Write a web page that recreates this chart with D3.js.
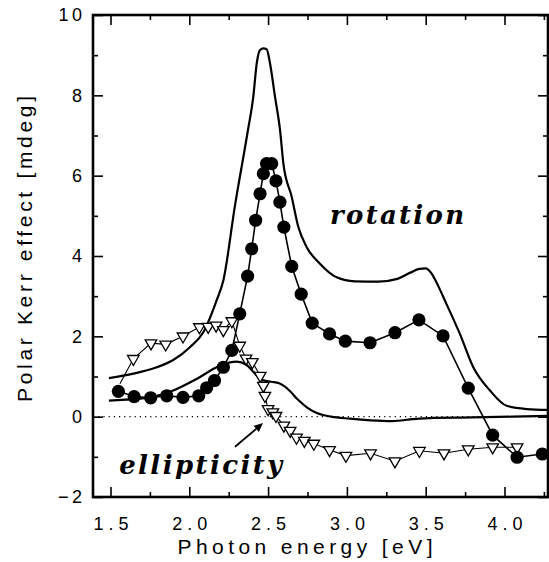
<!DOCTYPE html>
<html><head><meta charset="utf-8">
<script src="https://cdn.jsdelivr.net/npm/d3@7"></script>
<style>body{margin:0;background:#fff}svg{display:block}</style>
</head><body>
<svg id="c" width="549" height="562"></svg>
<script>
// ---- axis ticks ----
const xMajorTicks = [1.5, 2.0, 2.5, 3.0, 3.5, 4.0];
const xMinorTicks = [1.75, 2.25, 2.75, 3.25, 3.75, 4.25];
const xTickLabels = ["1.5", "2.0", "2.5", "3.0", "3.5", "4.0"];
const yMajorTicks = [-2, 0, 2, 4, 6, 8, 10];
const yMinorTicks = [-1, 1, 3, 5, 7, 9];
const yTickLabels = ["\u22122", "0", "2", "4", "6", "8", "10"];

// ---- theory: rotation (solid) ----
const rotTheoryE = [1.49, 1.645, 1.793, 1.898, 2.004, 2.089, 2.174, 2.216, 2.29, 2.372, 2.406, 2.428, 2.449, 2.47, 2.491, 2.512, 2.544, 2.576, 2.597, 2.65, 2.692, 2.745, 2.829, 2.935, 3.05, 3.2, 3.32, 3.40, 3.46, 3.50, 3.53, 3.58, 3.622, 3.717, 3.802, 3.908, 4.014, 4.141, 4.276];
const rotTheoryV = [0.96, 1.07, 1.23, 1.41, 1.73, 2.1, 2.9, 3.39, 5.26, 7.13, 7.96, 8.8, 9.13, 9.17, 9.15, 8.8, 7.96, 7.13, 6.3, 5.47, 4.72, 4.22, 3.81, 3.47, 3.37, 3.36, 3.43, 3.58, 3.68, 3.69, 3.6, 3.25, 2.89, 2.06, 1.23, 0.65, 0.27, 0.19, 0.17];

// ---- theory: ellipticity (solid) ----
const ellTheoryE = [1.49, 1.751, 1.898, 2.047, 2.174, 2.258, 2.30, 2.36, 2.41, 2.46, 2.52, 2.57, 2.63, 2.69, 2.75, 2.81, 2.9, 3.02, 3.15, 3.29, 3.42, 3.55, 3.8, 4.05, 4.276];
const ellTheoryV = [0.4, 0.48, 0.65, 0.94, 1.23, 1.35, 1.37, 1.30, 1.1, 0.92, 0.87, 0.83, 0.67, 0.42, 0.22, 0.09, 0.0, -0.05, -0.09, -0.11, -0.06, -0.03, -0.02, 0.0, 0.02];

// ---- measured rotation (filled circles) ----
const rotDataE = [1.55, 1.65, 1.755, 1.857, 1.96, 2.06, 2.11, 2.16, 2.216, 2.27, 2.32, 2.37, 2.396, 2.421, 2.449, 2.47, 2.49, 2.523, 2.55, 2.575, 2.60, 2.65, 2.71, 2.78, 2.89, 2.99, 3.147, 3.305, 3.457, 3.61, 3.77, 3.925, 4.08, 4.24];
const rotDataV = [0.63, 0.50, 0.47, 0.52, 0.48, 0.52, 0.72, 0.90, 1.23, 1.65, 2.56, 3.5, 4.18, 4.89, 5.55, 6.05, 6.3, 6.3, 5.87, 5.34, 4.72, 3.74, 3.05, 2.33, 2.06, 1.88, 1.84, 2.09, 2.41, 2.01, 0.71, -0.46, -1.01, -0.93];

// ---- measured ellipticity (open triangles) ----
const ellDataE = [1.56, 1.645, 1.757, 1.85, 1.96, 2.064, 2.12, 2.17, 2.216, 2.27, 2.32, 2.36, 2.40, 2.45, 2.47, 2.48, 2.50, 2.53, 2.55, 2.60, 2.64, 2.68, 2.73, 2.79, 2.89, 2.994, 3.15, 3.305, 3.46, 3.616, 3.77, 3.925, 4.08];
const ellDataV = [0.82, 1.44, 1.83, 1.80, 2.0, 2.23, 2.24, 2.27, 2.16, 2.38, 1.77, 1.45, 1.36, 1.02, 0.77, 0.52, 0.19, 0.11, 0.02, -0.22, -0.35, -0.52, -0.60, -0.67, -0.83, -0.97, -0.91, -1.11, -0.85, -0.91, -0.81, -0.76, -0.76];

// ---- annotations ----
const rotationLabel = {text: "rotation", e: 2.893, v: 4.8};
const ellipLabel = {text: "ellipticity", e: 1.555, v: -1.43};
const arrowFrom = {e: 2.29, v: -0.75};
const arrowTo = {e: 2.468, v: -0.16};

const zip = (E, V) => E.map((e, i) => ({e, v: V[i]}));
const rotTheory = zip(rotTheoryE, rotTheoryV);
const ellTheory = zip(ellTheoryE, ellTheoryV);
const rotData = zip(rotDataE, rotDataV);
const ellData = zip(ellDataE, ellDataV);

const L = 93, R = 548, T = 15, B = 497;
const x = d3.scaleLinear().domain([1.389, 4.276]).range([L, R]);
const y = d3.scaleLinear().domain([-2, 10]).range([B, T]);

const svg = d3.select("#c");
const sans = "'Liberation Sans', Arial, sans-serif";

// zero dotted line
svg.append("line").attr("x1", L).attr("x2", R).attr("y1", y(0)).attr("y2", y(0))
  .attr("stroke", "#000").attr("stroke-width", 1.2).attr("stroke-dasharray", "1.2,4");

// axes (ticks inward)
function ax(gen, scale, vals, size, tr, fmt) {
  const g = svg.append("g").attr("transform", tr)
    .call(gen(scale).tickValues(vals).tickSize(size).tickSizeOuter(0).tickFormat(fmt || (() => "")));
  g.select(".domain").remove();
  g.selectAll(".tick line").attr("stroke", "#000").attr("stroke-width", 1.6);
  return g;
}
const bx = ax(d3.axisBottom, x, xMajorTicks, -10, `translate(0,${B})`, (d, i) => xTickLabels[i]);
ax(d3.axisBottom, x, xMinorTicks, -5, `translate(0,${B})`);
ax(d3.axisTop, x, xMajorTicks, -10, `translate(0,${T})`);
ax(d3.axisTop, x, xMinorTicks, -5, `translate(0,${T})`);
const ly = ax(d3.axisLeft, y, yMajorTicks, -10, `translate(${L},0)`, (d, i) => yTickLabels[i]);
ax(d3.axisLeft, y, yMinorTicks, -5, `translate(${L},0)`);
ax(d3.axisRight, y, yMajorTicks, -10, `translate(${R},0)`);
ax(d3.axisRight, y, yMinorTicks, -5, `translate(${R},0)`);

bx.selectAll(".tick text").attr("font-family", sans).attr("font-size", 18)
  .attr("fill", "#000").attr("y", 20).attr("dy", "0.71em")
  .attr("letter-spacing", 5).attr("dx", 2.5);
ly.selectAll(".tick text").attr("font-family", sans).attr("font-size", 18)
  .attr("fill", "#000").attr("x", -11).attr("letter-spacing", 3.5).attr("dx", 3.5);

// frame
svg.append("rect").attr("x", L).attr("y", T).attr("width", R - L).attr("height", B - T)
  .attr("fill", "none").attr("stroke", "#000").attr("stroke-width", 2.6);

// theory curves
const line = d3.line().x(d => x(d.e)).y(d => y(d.v)).curve(d3.curveMonotoneX);
svg.append("path").datum(rotTheory).attr("d", line)
  .attr("fill", "none").attr("stroke", "#000").attr("stroke-width", 2.2);
svg.append("path").datum(ellTheory).attr("d", line)
  .attr("fill", "none").attr("stroke", "#000").attr("stroke-width", 2.2);

// data connecting lines
const lin = d3.line().x(d => x(d.e)).y(d => y(d.v));
svg.append("path").datum(ellData).attr("d", lin)
  .attr("fill", "none").attr("stroke", "#000").attr("stroke-width", 1.1);
svg.append("path").datum(rotData).attr("d", lin)
  .attr("fill", "none").attr("stroke", "#000").attr("stroke-width", 1.6);

// triangles
const tri = d3.symbol().type(d3.symbolTriangle).size(58);
svg.append("g").selectAll("path").data(ellData.slice(1)).join("path")
  .attr("d", tri)
  .attr("transform", d => `translate(${x(d.e)},${y(d.v)}) rotate(180)`)
  .attr("fill", "#fff").attr("stroke", "#000").attr("stroke-width", 1.3);

// circles
svg.append("g").selectAll("circle").data(rotData).join("circle")
  .attr("cx", d => x(d.e)).attr("cy", d => y(d.v)).attr("r", 6.6)
  .attr("fill", "#000");

// labels
const serif = "'DejaVu Serif', serif";
svg.append("text").attr("x", x(rotationLabel.e)).attr("y", y(rotationLabel.v))
  .attr("font-family", serif).attr("font-weight", "bold").attr("font-style", "italic")
  .attr("font-size", 26).attr("textLength", 134).attr("lengthAdjust", "spacing")
  .text(rotationLabel.text);
svg.append("text").attr("x", x(ellipLabel.e)).attr("y", y(ellipLabel.v))
  .attr("font-family", serif).attr("font-weight", "bold").attr("font-style", "italic")
  .attr("font-size", 26).attr("textLength", 163).attr("lengthAdjust", "spacing")
  .text(ellipLabel.text);

// arrow
const ax1 = x(arrowFrom.e), ay1 = y(arrowFrom.v), ax2 = x(arrowTo.e), ay2 = y(arrowTo.v);
const ang = Math.atan2(ay2 - ay1, ax2 - ax1);
const hl = 9, hw = 4;
const bxp = ax2 - hl * Math.cos(ang), byp = ay2 - hl * Math.sin(ang);
svg.append("line").attr("x1", ax1).attr("y1", ay1).attr("x2", bxp).attr("y2", byp)
  .attr("stroke", "#000").attr("stroke-width", 1.8);
svg.append("path").attr("d", `M${ax2},${ay2}L${bxp + hw * Math.sin(ang)},${byp - hw * Math.cos(ang)}L${bxp - hw * Math.sin(ang)},${byp + hw * Math.cos(ang)}Z`)
  .attr("fill", "#000");

// axis titles
svg.append("text").attr("x", 305).attr("y", 554).attr("text-anchor", "middle")
  .attr("font-family", sans).attr("font-size", 21)
  .attr("textLength", 255).attr("lengthAdjust", "spacing").text("Photon energy [eV]");
svg.append("text").attr("transform", "translate(32,249) rotate(-90)").attr("text-anchor", "middle")
  .attr("font-family", sans).attr("font-size", 21)
  .attr("textLength", 306).attr("lengthAdjust", "spacing").text("Polar Kerr effect [mdeg]");
</script>
</body></html>
